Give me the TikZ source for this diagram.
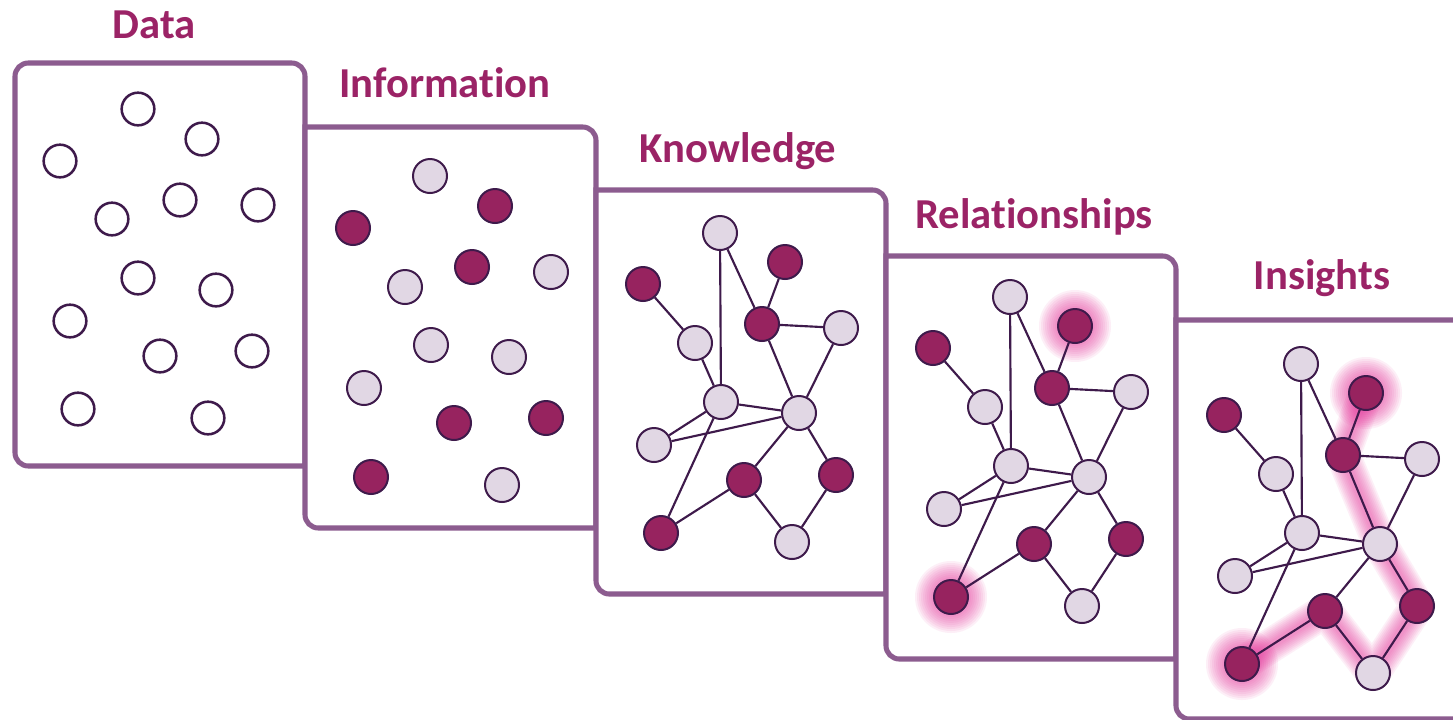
\documentclass[tikz,border=0pt]{standalone}
\usepackage{fontspec}
\setmainfont{Carlito}[Ligatures={NoCommon}]
\definecolor{panelc}{HTML}{8C5C8F}
\definecolor{titlec}{HTML}{9B2366}
\definecolor{darkfill}{HTML}{97235F}
\definecolor{lightfill}{HTML}{E1D7E4}
\definecolor{linec}{HTML}{3E1A4B}
\definecolor{glowc}{HTML}{E8339C}
\pgfdeclarelayer{panels}
\pgfdeclarelayer{glow}
\pgfsetlayers{panels,glow,main}
\newcommand\graphpanel[3]{%
\begin{scope}[shift={(#2,#3)}, name prefix=#1]
 \node[lt] (A) at (720,233) {};
 \node[dk] (B) at (785,262) {};
 \node[dk] (C) at (643,284) {};
 \node[dk] (D) at (762,324) {};
 \node[lt] (E) at (841,328) {};
 \node[lt] (F) at (695,343) {};
 \node[lt] (G) at (721,402) {};
 \node[lt] (H) at (799,413) {};
 \node[lt] (I) at (654,445) {};
 \node[dk] (J) at (744,480) {};
 \node[dk] (K) at (836,475) {};
 \node[dk] (L) at (661,533) {};
 \node[lt] (M) at (792,542) {};
 \draw[link] (A) -- (G);
 \draw[link] (A) -- (D);
 \draw[link] (B) -- (D);
 \draw[link] (C) -- (F);
 \draw[link] (F) -- (G);
 \draw[link] (D) -- (E);
 \draw[link] (D) -- (H);
 \draw[link] (E) -- (H);
 \draw[link] (G) -- (H);
 \draw[link] (G) -- (I);
 \draw[link] (I) -- (H);
 \draw[link] (G) -- (L);
 \draw[link] (H) -- (J);
 \draw[link] (J) -- (L);
 \draw[link] (H) -- (K);
 \draw[link] (J) -- (M);
 \draw[link] (K) -- (M);
\end{scope}}
\newcommand\nodeglow[1]{%
 \foreach \r in {36,34,...,20}
  \fill[glowc, fill opacity=0.08] (#1) circle[radius=\r];}
\begin{document}
\begin{tikzpicture}[x=0.75pt,y=-0.75pt,
  panel/.style={draw=panelc, line width=3.8pt, fill=white},
  ttl/.style={text=titlec, font=\bfseries\fontsize{32}{38}\selectfont, anchor=base, inner sep=0pt},
  dnode/.style={circle, draw=linec, line width=1.9pt, fill=white, minimum size=24.5pt, inner sep=0pt},
  gnode/.style={circle, draw=linec, line width=1.5pt, minimum size=25.5pt, inner sep=0pt},
  lt/.style={gnode, fill=lightfill},
  dk/.style={gnode, fill=darkfill},
  link/.style={draw=linec, line width=1.6pt},
  glowline/.style={draw=glowc, line cap=round, line join=round}]
\useasboundingbox (0,0) rectangle (1453,719);

% panels
\begin{pgfonlayer}{panels}
 \filldraw[panel, rounded corners=10pt] (15,250) -- (15,63) -- (305,63) [sharp corners] -- (305,466) [rounded corners=10pt] -- (15,466) -- cycle;
 \filldraw[panel] (305,300) [sharp corners] -- (305,127) [rounded corners=10pt] -- (596,127) [sharp corners] -- (596,528) [rounded corners=10pt] -- (305,528) -- cycle;
 \filldraw[panel] (596,350) [sharp corners] -- (596,190) [rounded corners=10pt] -- (886,190) [sharp corners] -- (886,594) [rounded corners=10pt] -- (596,594) -- cycle;
 \filldraw[panel] (886,400) [sharp corners] -- (886,256) [rounded corners=10pt] -- (1176,256) [sharp corners] -- (1176,659) [rounded corners=10pt] -- (886,659) -- cycle;
 \filldraw[panel] (1176,450) [sharp corners] -- (1176,320) -- (1480,320) -- (1480,719) [rounded corners=10pt] -- (1176,719) -- cycle;
\end{pgfonlayer}

% titles
\node[ttl] (tData) at (154,38) {Data};
\node[ttl] (tInfo) at (445,97) {Information};
\node[ttl] (tKnow) at (738,162) {Knowledge};
\node[ttl] (tRel) at (1034,228) {Relationships};
\node[ttl] (tIns) at (1322,289) {Insights};

% data panel
\node[dnode] (d1) at (138,109) {};
\node[dnode] (d2) at (202,139) {};
\node[dnode] (d3) at (60,161) {};
\node[dnode] (d4) at (180,200) {};
\node[dnode] (d5) at (258,205) {};
\node[dnode] (d6) at (112,219) {};
\node[dnode] (d7) at (138,278) {};
\node[dnode] (d8) at (216,290) {};
\node[dnode] (d9) at (70,321) {};
\node[dnode] (d10) at (160,356) {};
\node[dnode] (d11) at (252,351) {};
\node[dnode] (d12) at (78,409) {};
\node[dnode] (d13) at (208,418) {};

% information panel
\node[lt] (i1) at (430,176) {};
\node[dk] (i2) at (495,206) {};
\node[dk] (i3) at (353,228) {};
\node[dk] (i4) at (472,267) {};
\node[lt] (i5) at (551,272) {};
\node[lt] (i6) at (405,287) {};
\node[lt] (i7) at (431,345) {};
\node[lt] (i8) at (509,357) {};
\node[lt] (i9) at (364,388) {};
\node[dk] (i10) at (454,423) {};
\node[dk] (i11) at (546,418) {};
\node[dk] (i12) at (371,477) {};
\node[lt] (i13) at (502,485) {};

% graph panels
\graphpanel{k-}{0}{0}
\graphpanel{r-}{290}{64}
\graphpanel{s-}{581}{131}

% glows
\begin{pgfonlayer}{glow}
 \nodeglow{r-B}
 \nodeglow{r-L}
 \nodeglow{s-B}
 \nodeglow{s-L}
 \foreach \w in {26,23.5,...,5}
  \draw[glowline, line width=\w pt, draw opacity=0.08] (s-B.center) -- (s-D.center) -- (s-H.center) -- (s-K.center) -- (s-M.center) -- (s-J.center) -- (s-L.center);
\end{pgfonlayer}
\end{tikzpicture}
\end{document}
